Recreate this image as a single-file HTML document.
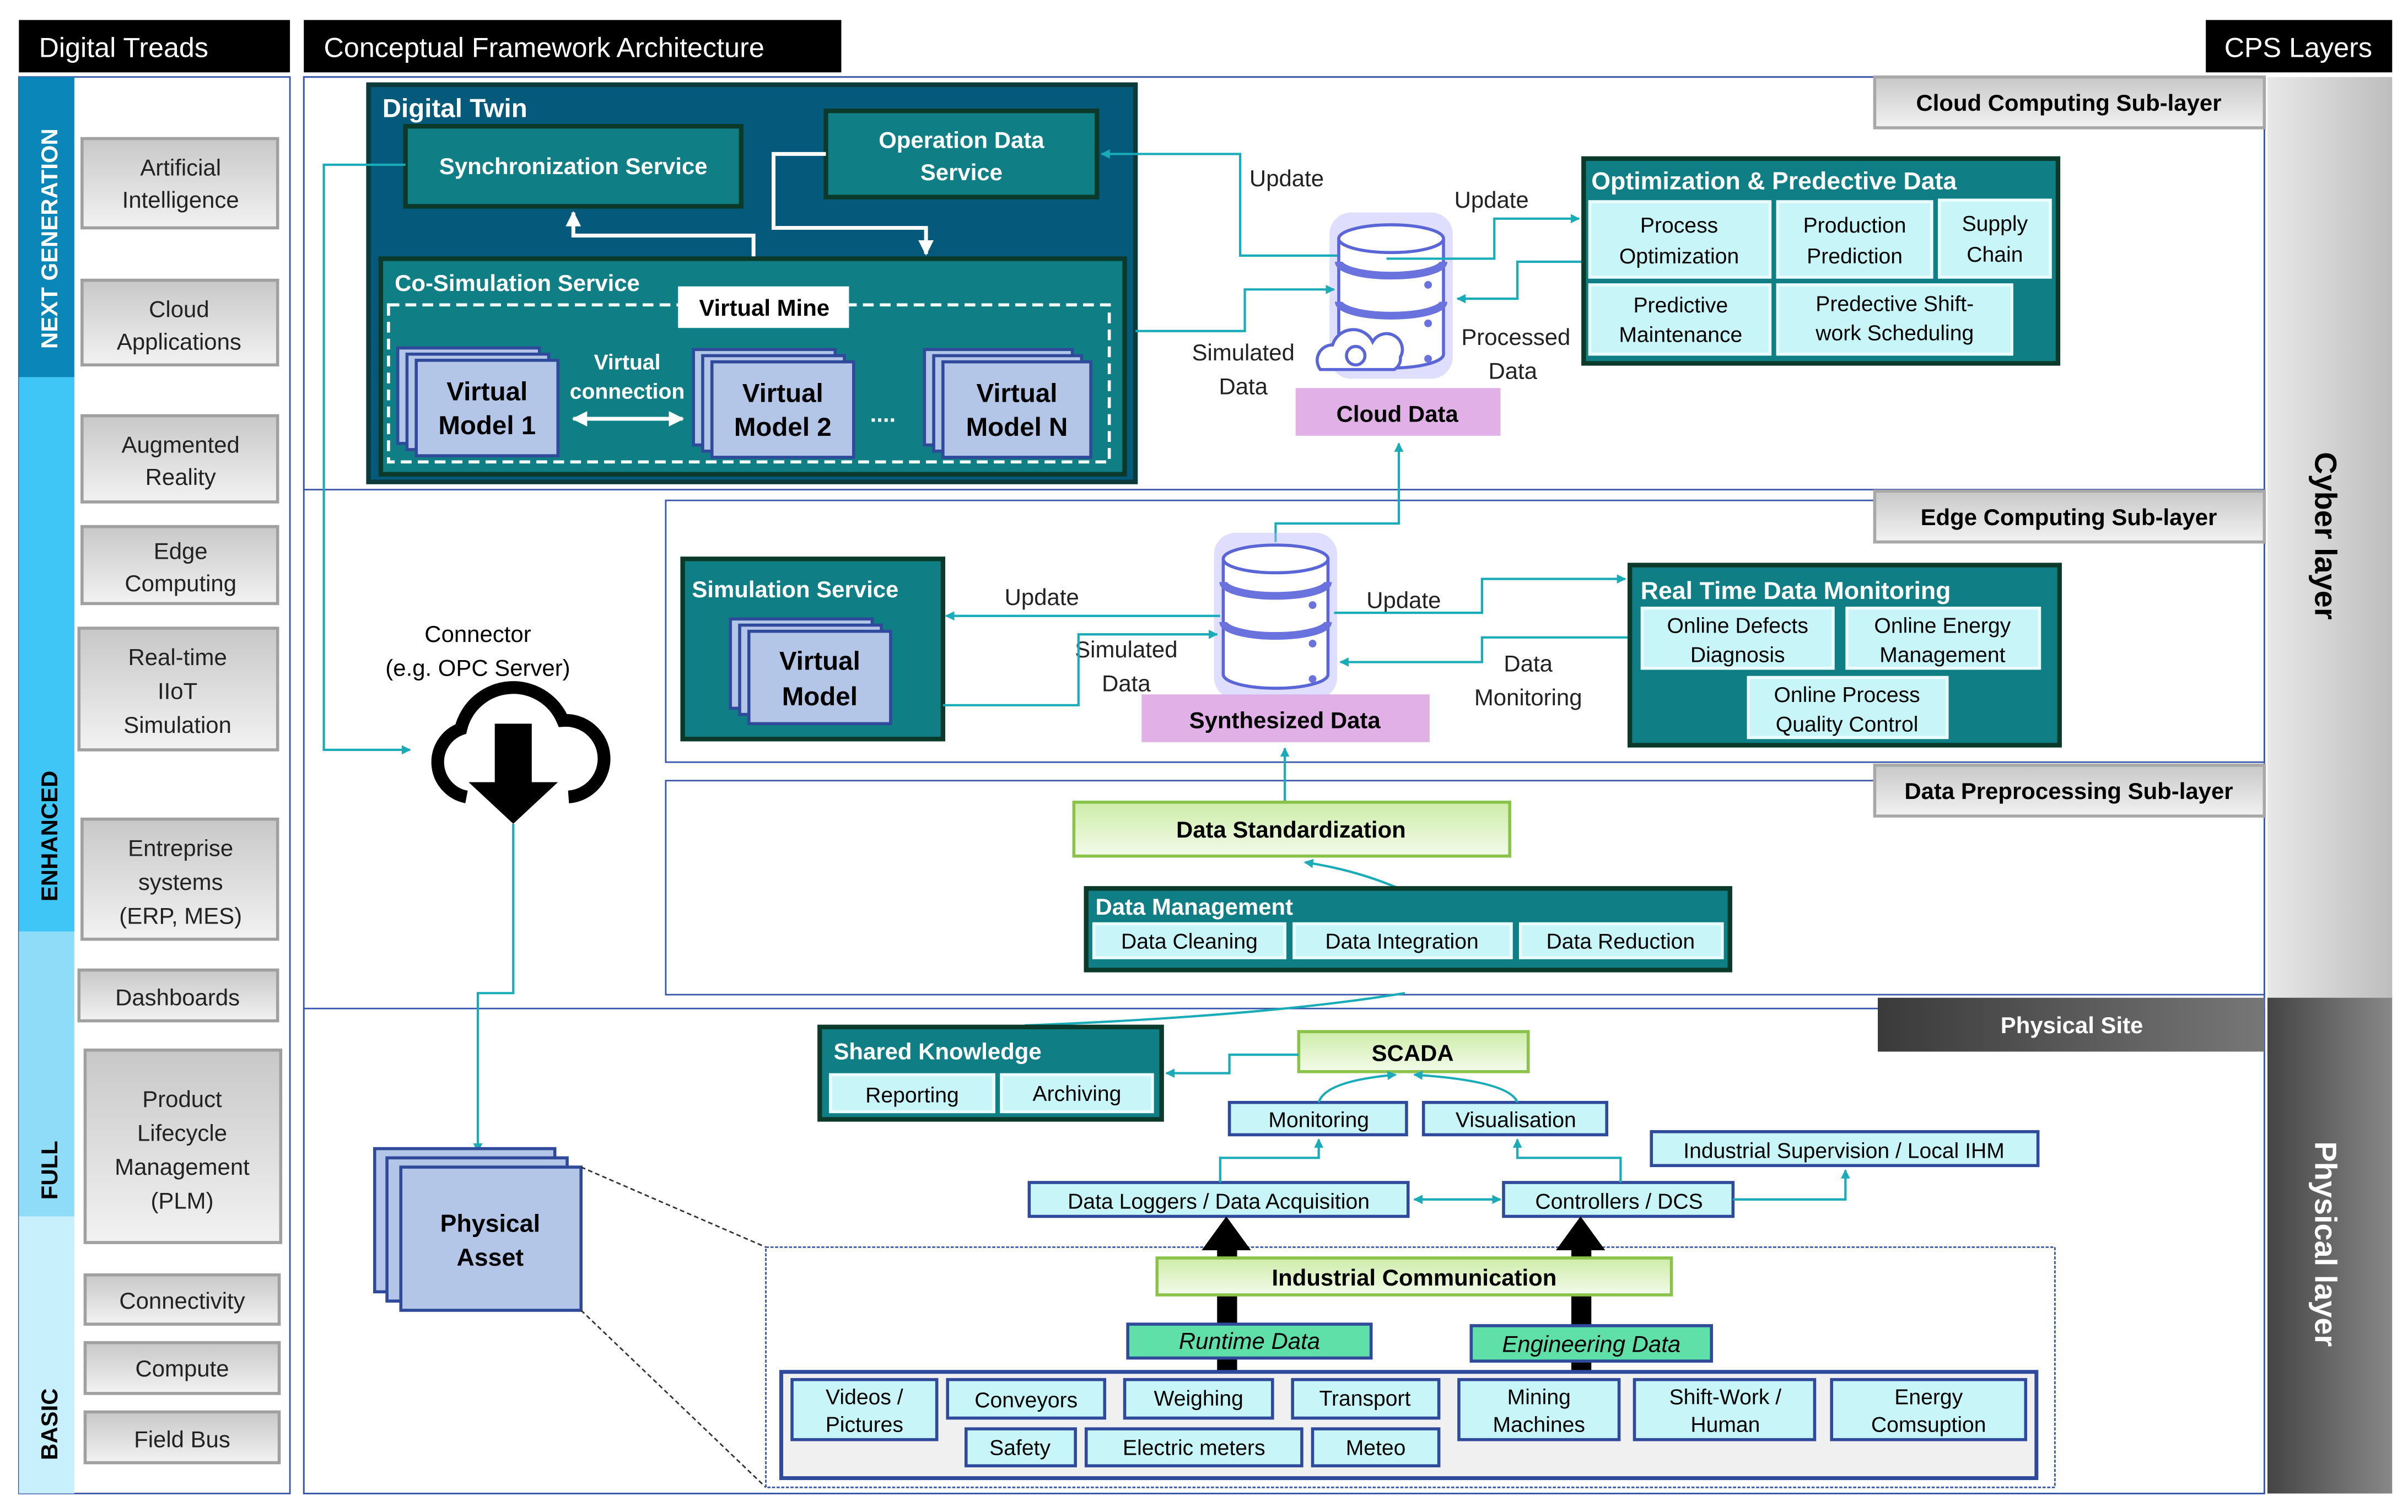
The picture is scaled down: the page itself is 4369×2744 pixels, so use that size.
<!DOCTYPE html>
<html><head><meta charset="utf-8"><style>
html,body{margin:0;padding:0;background:#fff}
svg{display:block}
text{font-family:"Liberation Sans",sans-serif}
</style></head><body>
<svg width="4369" height="2744" viewBox="0 0 1563 982" xmlns="http://www.w3.org/2000/svg">
<defs>
<marker id="a" viewBox="0 0 10 10" refX="9" refY="5" markerWidth="4" markerHeight="4" orient="auto-start-reverse"><path d="M0,0L10,5L0,10z" fill="#1aabb8"/></marker>
<marker id="w" viewBox="0 0 10 10" refX="9" refY="5" markerWidth="4" markerHeight="4" orient="auto-start-reverse"><path d="M0,0L10,5L0,10z" fill="#fff"/></marker>
<linearGradient id="g" x1="0" y1="0" x2="0" y2="1"><stop offset="0" stop-color="#c8c8c8"/><stop offset="1" stop-color="#f2f2f2"/></linearGradient>
<linearGradient id="gr" x1="0" y1="0" x2="0" y2="1"><stop offset="0" stop-color="#cdeca8"/><stop offset="1" stop-color="#f3fbea"/></linearGradient>
<linearGradient id="dk" x1="0" y1="0" x2="1" y2="0"><stop offset="0" stop-color="#3a3a3a"/><stop offset="1" stop-color="#777"/></linearGradient>
<linearGradient id="lt" x1="0" y1="0" x2="1" y2="0"><stop offset="0" stop-color="#e8e8e8"/><stop offset="1" stop-color="#bdbdbd"/></linearGradient>
<linearGradient id="pl" x1="0" y1="0" x2="1" y2="0"><stop offset="0" stop-color="#444"/><stop offset="1" stop-color="#888"/></linearGradient>
<g id="db">
<rect x="-40" y="-52" width="80" height="108" rx="14" fill="#b9b5ff" opacity="0.45"/>
<path d="M-34,-35 V40 A34,9 0 0 0 34,40 V-35" fill="#fff" stroke="#5a66d6" stroke-width="2"/>
<ellipse cx="0" cy="-35" rx="34" ry="9" fill="#fff" stroke="#5a66d6" stroke-width="2"/>
<path d="M-34,-20 A34,9 0 0 0 34,-20" fill="none" stroke="#6a72de" stroke-width="5"/>
<path d="M-34,6 A34,9 0 0 0 34,6" fill="none" stroke="#6a72de" stroke-width="5"/>
<circle cx="24" cy="-5" r="2.5" fill="#6a72de"/><circle cx="24" cy="20" r="2.5" fill="#6a72de"/><circle cx="24" cy="43" r="2.5" fill="#6a72de"/>
</g>
</defs>
<g font-size="15">
<rect x="12" y="13" width="176" height="34" fill="#000"/><text x="25" y="37" fill="#fff" font-size="18">Digital Treads</text>
<rect x="197" y="13" width="349" height="34" fill="#000"/><text x="210" y="37" fill="#fff" font-size="18">Conceptual Framework Architecture</text>
<rect x="1432" y="13" width="121" height="34" fill="#000"/><text x="1444" y="37" fill="#fff" font-size="18">CPS Layers</text>

<rect x="12" y="50" width="176" height="920" fill="#fff" stroke="#3a56a8"/>
<rect x="12" y="50" width="36" height="195" fill="#0a87b8"/>
<rect x="12" y="245" width="36" height="360" fill="#40c6f6"/>
<rect x="12" y="605" width="36" height="185" fill="#8fdcf8"/>
<rect x="12" y="790" width="36" height="180" fill="#c8effc"/>
<g font-weight="bold" font-size="15" text-anchor="middle">
<text transform="translate(37,155) rotate(-90)" fill="#fff">NEXT GENERATION</text>
<text transform="translate(37,543) rotate(-90)" fill="#000">ENHANCED</text>
<text transform="translate(37,760) rotate(-90)" fill="#000">FULL</text>
<text transform="translate(37,925) rotate(-90)" fill="#000">BASIC</text>
</g>
<g fill="url(#g)" stroke="#a0a0a0" stroke-width="2">
<rect x="53" y="90" width="127" height="58"/><rect x="53" y="182" width="127" height="55"/>
<rect x="53" y="270" width="127" height="56"/><rect x="53" y="342" width="127" height="50"/>
<rect x="51" y="408" width="129" height="79"/><rect x="53" y="532" width="127" height="78"/>
<rect x="51" y="630" width="129" height="33"/><rect x="55" y="682" width="127" height="125"/>
<rect x="55" y="828" width="126" height="32"/><rect x="55" y="872" width="126" height="33"/>
<rect x="55" y="917" width="126" height="33"/>
</g>
<g text-anchor="middle" fill="#222">
<text x="117" y="114">Artificial</text><text x="117" y="135">Intelligence</text>
<text x="116" y="206">Cloud</text><text x="116" y="227">Applications</text>
<text x="117" y="294">Augmented</text><text x="117" y="315">Reality</text>
<text x="117" y="363">Edge</text><text x="117" y="384">Computing</text>
<text x="115" y="432">Real-time</text><text x="115" y="454">IIoT</text><text x="115" y="476">Simulation</text>
<text x="117" y="556">Entreprise</text><text x="117" y="578">systems</text><text x="117" y="600">(ERP, MES)</text>
<text x="115" y="653">Dashboards</text>
<text x="118" y="719">Product</text><text x="118" y="741">Lifecycle</text><text x="118" y="763">Management</text><text x="118" y="785">(PLM)</text>
<text x="118" y="850">Connectivity</text><text x="118" y="894">Compute</text><text x="118" y="940">Field Bus</text>
</g>

<rect x="1472" y="50" width="81" height="598" fill="url(#lt)"/>
<rect x="1472" y="648" width="81" height="322" fill="url(#pl)"/>
<text transform="translate(1503,348) rotate(90)" text-anchor="middle" font-size="20" font-weight="bold">Cyber layer</text>
<text transform="translate(1503,808) rotate(90)" text-anchor="middle" font-size="20" font-weight="bold" fill="#fff">Physical layer</text>

<rect x="197" y="50" width="1273" height="920" fill="none" stroke="#3a56a8"/>
<rect x="197" y="50" width="1273" height="268" fill="none" stroke="#3a56a8"/>
<rect x="432" y="325" width="1038" height="170" fill="none" stroke="#3a56a8"/>
<rect x="432" y="507" width="1038" height="139" fill="none" stroke="#3a56a8"/>
<rect x="197" y="655" width="1273" height="315" fill="none" stroke="#3a56a8"/>
<g font-weight="bold" text-anchor="middle">
<rect x="1217" y="50" width="253" height="33" fill="url(#g)" stroke="#a8a8a8" stroke-width="2"/><text x="1343" y="72">Cloud Computing Sub-layer</text>
<rect x="1217" y="319" width="253" height="33" fill="url(#g)" stroke="#a8a8a8" stroke-width="2"/><text x="1343" y="341">Edge Computing Sub-layer</text>
<rect x="1217" y="497" width="253" height="33" fill="url(#g)" stroke="#a8a8a8" stroke-width="2"/><text x="1343" y="519">Data Preprocessing Sub-layer</text>
<rect x="1219" y="648" width="251" height="35" fill="url(#dk)"/><text x="1345" y="671" fill="#fff">Physical Site</text>
</g>

<rect x="239" y="55" width="498" height="258" fill="#05597a" stroke="#0b3a3a" stroke-width="3"/>
<text x="248" y="76" fill="#fff" font-weight="bold" font-size="17">Digital Twin</text>
<rect x="263" y="82" width="218" height="52" fill="#0f7f85" stroke="#0b3a2a" stroke-width="3"/>
<text x="372" y="113" fill="#fff" font-weight="bold" text-anchor="middle">Synchronization  Service</text>
<rect x="536" y="72" width="176" height="56" fill="#0f7f85" stroke="#0b3a2a" stroke-width="3"/>
<text x="624" y="96" fill="#fff" font-weight="bold" text-anchor="middle">Operation Data</text><text x="624" y="117" fill="#fff" font-weight="bold" text-anchor="middle">Service</text>
<polyline points="489,168 489,153 372,153 372,138" fill="none" stroke="#fff" stroke-width="2.5" marker-end="url(#w)"/>
<polyline points="536,100 502,100 502,148 601,148 601,165" fill="none" stroke="#fff" stroke-width="2.5" marker-end="url(#w)"/>
<rect x="247" y="168" width="483" height="140" fill="#0f7f85" stroke="#0b3a2a" stroke-width="3"/>
<text x="256" y="189" fill="#fff" font-weight="bold">Co-Simulation Service</text>
<rect x="252" y="198" width="468" height="102" fill="none" stroke="#fff" stroke-width="2" stroke-dasharray="7,4"/>
<rect x="440" y="186" width="111" height="27" fill="#fff"/><text x="496" y="205" text-anchor="middle" font-weight="bold">Virtual Mine</text>
<g fill="#b4c6e7" stroke="#2f4a9a" stroke-width="2">
<rect x="258" y="226" width="92" height="62"/><rect x="264" y="230" width="92" height="62"/><rect x="270" y="234" width="92" height="62"/>
<rect x="450" y="227" width="92" height="62"/><rect x="456" y="231" width="92" height="62"/><rect x="462" y="235" width="92" height="62"/>
<rect x="600" y="227" width="96" height="62"/><rect x="606" y="231" width="96" height="62"/><rect x="612" y="235" width="96" height="62"/>
</g>
<g font-weight="bold" font-size="17" text-anchor="middle">
<text x="316" y="260">Virtual</text><text x="316" y="282">Model 1</text>
<text x="508" y="261">Virtual</text><text x="508" y="283">Model 2</text>
<text x="660" y="261">Virtual</text><text x="660" y="283">Model N</text>
</g>
<text x="407" y="240" fill="#fff" font-weight="bold" text-anchor="middle" font-size="14">Virtual</text>
<text x="407" y="259" fill="#fff" font-weight="bold" text-anchor="middle" font-size="14">connection</text>
<line x1="372" y1="272" x2="443" y2="272" stroke="#fff" stroke-width="2.5" marker-start="url(#w)" marker-end="url(#w)"/>
<text x="573" y="274" fill="#fff" font-weight="bold" text-anchor="middle">....</text>

<use href="#db" x="903" y="190"/>
<path d="M857,240 a10,10 0 0 1 8,-16 a14,14 0 0 1 26,-2 a10,10 0 0 1 18,10 a8,8 0 0 1 -4,8z" fill="#fff" stroke="#5a66d6" stroke-width="2"/>
<circle cx="880" cy="231" r="6" fill="none" stroke="#5a66d6" stroke-width="2"/>
<rect x="841" y="252" width="133" height="31" fill="#e0b0e6"/><text x="907" y="274" text-anchor="middle" font-weight="bold">Cloud Data</text>
<g fill="#222"><text x="811" y="121">Update</text><text x="944" y="135">Update</text>
<text x="807" y="234" text-anchor="middle">Simulated</text><text x="807" y="256" text-anchor="middle">Data</text>
<text x="984" y="224" text-anchor="middle">Processed</text><text x="982" y="246" text-anchor="middle">Data</text></g>
<g fill="none" stroke="#1aabb8" stroke-width="1.5">
<polyline points="868,166 805,166 805,100 715,100" marker-end="url(#a)"/>
<polyline points="737,215 808,215 808,188 866,188" marker-end="url(#a)"/>
<polyline points="900,168 970,168 970,142 1025,142" marker-end="url(#a)"/>
<polyline points="1028,170 985,170 985,194 946,194" marker-end="url(#a)"/>
<polyline points="263,107 210,107 210,487 266,487" marker-end="url(#a)"/>
<polyline points="828,352 828,340 908,340 908,288" marker-end="url(#a)"/>
<polyline points="333,535 333,645 310,645 310,748" marker-end="url(#a)"/>
</g>

<rect x="1028" y="103" width="308" height="133" fill="#0f7f85" stroke="#0b3a2a" stroke-width="3"/>
<text x="1033" y="123" fill="#fff" font-weight="bold" font-size="16">Optimization &amp; Predective Data</text>
<g fill="#c8f5f8" stroke="#eafcfd" stroke-width="2">
<rect x="1032" y="131" width="117" height="49"/><rect x="1154" y="131" width="100" height="49"/><rect x="1259" y="130" width="72" height="50"/>
<rect x="1032" y="185" width="117" height="45"/><rect x="1154" y="185" width="152" height="45"/>
</g>
<g text-anchor="middle" font-size="14"><text x="1090" y="151">Process</text><text x="1090" y="171">Optimization</text>
<text x="1204" y="151">Production</text><text x="1204" y="171">Prediction</text>
<text x="1295" y="150">Supply</text><text x="1295" y="170">Chain</text>
<text x="1091" y="203">Predictive</text><text x="1091" y="222">Maintenance</text>
<text x="1230" y="202">Predective  Shift-</text><text x="1230" y="221">work Scheduling</text></g>

<text x="310" y="417" text-anchor="middle">Connector</text><text x="310" y="439" text-anchor="middle">(e.g. OPC Server)</text>
<g transform="translate(333,490) scale(0.92) translate(-333,-490) translate(0,10)">
<path d="M300,510 a25,25 0 0 1 -4,-48 a38,38 0 0 1 72,-6 a25,25 0 0 1 4,54" fill="none" stroke="#000" stroke-width="9"/>
</g>
<path d="M321,470 h24 v38 h17 l-29,27 l-29,-27 h17z" fill="#000"/>

<rect x="443" y="363" width="169" height="117" fill="#0f7f85" stroke="#0b3a2a" stroke-width="3"/>
<text x="449" y="388" fill="#fff" font-weight="bold">Simulation Service</text>
<g fill="#b4c6e7" stroke="#2f4a9a" stroke-width="2"><rect x="474" y="402" width="92" height="58"/><rect x="480" y="406" width="92" height="58"/><rect x="486" y="410" width="92" height="60"/></g>
<text x="532" y="435" text-anchor="middle" font-weight="bold" font-size="17">Virtual</text><text x="532" y="458" text-anchor="middle" font-weight="bold" font-size="17">Model</text>
<use href="#db" x="828" y="398"/>
<rect x="741" y="451" width="187" height="31" fill="#e0b0e6"/><text x="834" y="473" text-anchor="middle" font-weight="bold">Synthesized Data</text>
<g fill="#222"><text x="652" y="393">Update</text><text x="731" y="427" text-anchor="middle">Simulated</text><text x="731" y="449" text-anchor="middle">Data</text>
<text x="887" y="395">Update</text><text x="992" y="436" text-anchor="middle">Data</text><text x="992" y="458" text-anchor="middle">Monitoring</text></g>
<g fill="none" stroke="#1aabb8" stroke-width="1.5">
<polyline points="792,400 614,400" marker-end="url(#a)"/>
<polyline points="612,458 700,458 700,412 790,412" marker-end="url(#a)"/>
<polyline points="866,398 962,398 962,376 1055,376" marker-end="url(#a)"/>
<polyline points="1058,414 962,414 962,430 870,430" marker-end="url(#a)"/>
<polyline points="834,521 834,486" marker-end="url(#a)"/>
<path d="M908,577 Q880,565 847,560" marker-end="url(#a)"/>
<path d="M665,666 Q820,660 912,645"/>
</g>
<rect x="1058" y="367" width="279" height="117" fill="#0f7f85" stroke="#0b3a2a" stroke-width="3"/>
<text x="1065" y="389" fill="#fff" font-weight="bold" font-size="16">Real Time Data Monitoring</text>
<g fill="#c8f5f8" stroke="#eafcfd" stroke-width="2"><rect x="1066" y="395" width="124" height="39"/><rect x="1199" y="395" width="125" height="39"/><rect x="1135" y="440" width="129" height="39"/></g>
<g text-anchor="middle" font-size="14"><text x="1128" y="411">Online Defects</text><text x="1128" y="430">Diagnosis</text>
<text x="1261" y="411">Online Energy</text><text x="1261" y="430">Management</text>
<text x="1199" y="456">Online Process</text><text x="1199" y="475">Quality Control</text></g>

<rect x="697" y="521" width="283" height="35" fill="url(#gr)" stroke="#8bc34a" stroke-width="2"/>
<text x="838" y="544" text-anchor="middle" font-weight="bold">Data Standardization</text>
<rect x="705" y="577" width="418" height="53" fill="#0f7f85" stroke="#0b3a2a" stroke-width="3"/>
<text x="711" y="594" fill="#fff" font-weight="bold">Data Management</text>
<g fill="#c8f5f8" stroke="#eafcfd" stroke-width="2"><rect x="710" y="600" width="124" height="22"/><rect x="840" y="600" width="141" height="22"/><rect x="987" y="600" width="131" height="22"/></g>
<g text-anchor="middle" font-size="14"><text x="772" y="616">Data Cleaning</text><text x="910" y="616">Data Integration</text><text x="1052" y="616">Data Reduction</text></g>

<rect x="532" y="667" width="222" height="60" fill="#0f7f85" stroke="#0b3a2a" stroke-width="3"/>
<text x="541" y="688" fill="#fff" font-weight="bold">Shared Knowledge</text>
<g fill="#c8f5f8" stroke="#eafcfd" stroke-width="2"><rect x="539" y="698" width="106" height="24"/><rect x="650" y="698" width="98" height="24"/></g>
<text x="592" y="716" text-anchor="middle" font-size="14">Reporting</text><text x="699" y="715" text-anchor="middle" font-size="14">Archiving</text>
<rect x="843" y="670" width="149" height="26" fill="url(#gr)" stroke="#8bc34a" stroke-width="2"/><text x="917" y="689" text-anchor="middle" font-weight="bold">SCADA</text>
<g fill="#c8f5f8" stroke="#2f4a9a" stroke-width="2">
<rect x="798" y="716" width="115" height="21"/><rect x="924" y="716" width="119" height="21"/>
<rect x="1072" y="735" width="251" height="22"/>
<rect x="668" y="768" width="246" height="22"/><rect x="976" y="768" width="149" height="22"/>
</g>
<g text-anchor="middle" font-size="14"><text x="856" y="732">Monitoring</text><text x="984" y="732">Visualisation</text>
<text x="1197" y="752">Industrial Supervision / Local IHM</text>
<text x="791" y="785">Data Loggers / Data Acquisition</text><text x="1051" y="785">Controllers / DCS</text></g>
<g fill="none" stroke="#1aabb8" stroke-width="1.5">
<polyline points="843,685 798,685 798,697 757,697" marker-end="url(#a)"/>
<path d="M856,716 Q860,702 906,698" marker-end="url(#a)"/>
<path d="M985,716 Q980,702 918,698" marker-end="url(#a)"/>
<polyline points="792,768 792,752 856,752 856,740" marker-end="url(#a)"/>
<polyline points="1052,768 1052,752 985,752 985,740" marker-end="url(#a)"/>
<line x1="918" y1="779" x2="974" y2="779" marker-start="url(#a)" marker-end="url(#a)"/>
<polyline points="1125,779 1198,779 1198,760" marker-end="url(#a)"/>
</g>
<g fill="#b4c6e7" stroke="#2f4a9a" stroke-width="2"><rect x="243" y="746" width="117" height="93"/><rect x="251" y="752" width="117" height="93"/><rect x="260" y="758" width="117" height="93"/></g>
<text x="318" y="800" text-anchor="middle" font-weight="bold" font-size="16">Physical</text><text x="318" y="822" text-anchor="middle" font-weight="bold" font-size="16">Asset</text>
<line x1="377" y1="758" x2="497" y2="810" stroke="#333" stroke-dasharray="3,2"/>
<line x1="377" y1="851" x2="497" y2="966" stroke="#333" stroke-dasharray="3,2"/>
<rect x="497" y="810" width="837" height="156" fill="none" stroke="#3a56a8" stroke-dasharray="2,1"/>
<rect x="790" y="810" width="13" height="81" fill="#000"/><path d="M780,812 L796,790 L812,812z" fill="#000"/>
<rect x="1020" y="810" width="13" height="81" fill="#000"/><path d="M1010,812 L1026,790 L1042,812z" fill="#000"/>
<rect x="751" y="817" width="334" height="24" fill="url(#gr)" stroke="#8bc34a" stroke-width="2"/><text x="918" y="835" text-anchor="middle" font-weight="bold">Industrial Communication</text>
<rect x="732" y="860" width="158" height="22" fill="#5ee0a8" stroke="#2f4a9a" stroke-width="2"/><text x="811" y="876" text-anchor="middle" font-style="italic">Runtime Data</text>
<rect x="955" y="861" width="156" height="23" fill="#5ee0a8" stroke="#2f4a9a" stroke-width="2"/><text x="1033" y="878" text-anchor="middle" font-style="italic">Engineering Data</text>
<rect x="507" y="891" width="815" height="69" fill="#f0f0f0" stroke="#2f4a9a" stroke-width="2.5"/>
<g fill="#c8f5f8" stroke="#2f4a9a" stroke-width="2">
<rect x="514" y="896" width="94" height="39"/><rect x="615" y="896" width="102" height="25"/><rect x="730" y="896" width="96" height="25"/><rect x="839" y="896" width="95" height="25"/>
<rect x="947" y="896" width="104" height="39"/><rect x="1061" y="896" width="117" height="39"/><rect x="1189" y="896" width="126" height="39"/>
<rect x="627" y="928" width="71" height="24"/><rect x="705" y="928" width="140" height="24"/><rect x="852" y="928" width="82" height="24"/>
</g>
<g text-anchor="middle" font-size="14"><text x="561" y="912">Videos /</text><text x="561" y="930">Pictures</text>
<text x="666" y="914">Conveyors</text><text x="778" y="913">Weighing</text><text x="886" y="913">Transport</text>
<text x="999" y="912">Mining</text><text x="999" y="930">Machines</text>
<text x="1120" y="912">Shift-Work /</text><text x="1120" y="930">Human</text>
<text x="1252" y="912">Energy</text><text x="1252" y="930">Comsuption</text>
<text x="662" y="945">Safety</text><text x="775" y="945">Electric meters</text><text x="893" y="945">Meteo</text></g>
</g>
</svg>
</body></html>
